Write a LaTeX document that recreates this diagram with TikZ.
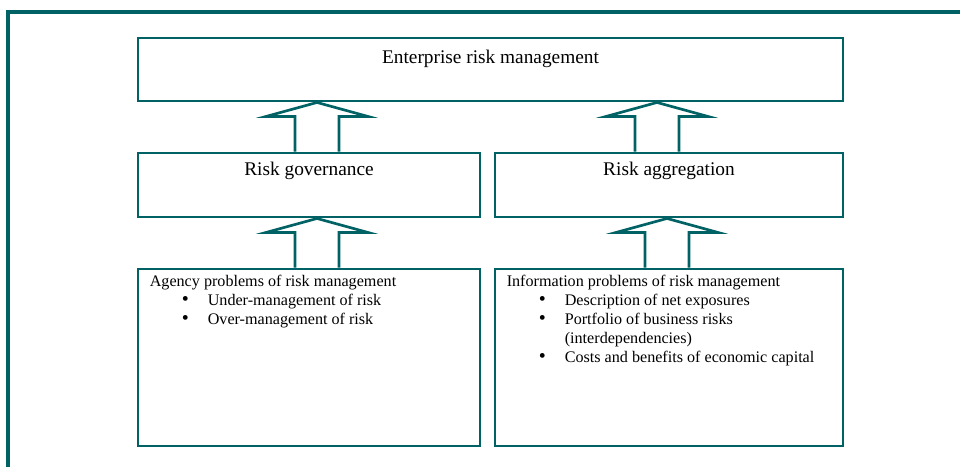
\documentclass[tikz,border=0pt]{standalone}
\usepackage{fontspec}
\setmainfont{Liberation Serif}
\usepackage{xcolor}
\definecolor{riskteal}{RGB}{0,98,100}
\usetikzlibrary{positioning, calc}

% hollow block arrow pointing up from box #1 to box #2, shifted by #3
\newcommand{\blockup}[3]{%
  \coordinate (base) at ($(#1.north)+(#3,0)$);
  \coordinate (tip) at (base |- #2.south);
  \draw[blockarrow] ($(base)+(-22,0)$) -- ($(tip)+(-22,14)$) -- ($(tip)+(-51,14)$)
    -- (tip) -- ($(tip)+(51,14)$) -- ($(tip)+(22,14)$) -- ($(base)+(22,0)$);
}
% bullet of a list line
\newcommand{\blt}{\hspace*{24pt}\makebox[19.5pt][l]{\smash{\fontsize{15}{14}\selectfont\textbullet}}}

\begin{document}
\begin{tikzpicture}[
    x=0.75pt, y=-0.75pt,
    box/.style={draw=riskteal, line width=2.2pt, inner sep=0pt},
    headtxt/.style={font=\fontsize{14.5}{17}\selectfont, inner sep=0pt},
    listtxt/.style={font=\fontsize{12.1}{14.25}\selectfont, align=left, inner sep=0pt, anchor=north west},
    blockarrow/.style={draw=riskteal, line width=2pt, line join=miter},
    framerule/.style={draw=riskteal, line width=2.6pt},
  ]
    \useasboundingbox (0,0) rectangle (960,467);

    % outer frame (top and left only)
    \draw[framerule] (960,12) -- (8,12) -- (8,467);

    % boxes
    \node[box, minimum width=528.75pt, minimum height=47.25pt] (erm) at (490.5,69.5) {};
    \node[box, minimum width=256.5pt, minimum height=48pt] (gov) at (309,185) {};
    \node[box, minimum width=261pt, minimum height=48pt] (agg) at (669,185) {};
    \node[box, minimum width=256.5pt, minimum height=132.75pt] (agency) at (309,357.5) {};
    \node[box, minimum width=261pt, minimum height=132.75pt] (info) at (669,357.5) {};

    % titles
    \node[headtxt, anchor=base] (ermtxt) at ($(erm.north)+(0,27)$) {Enterprise risk management};
    \node[headtxt, anchor=base] (govtxt) at ($(gov.north)+(0,24)$) {Risk governance};
    \node[headtxt, anchor=base] (aggtxt) at ($(agg.north)+(0,24)$) {Risk aggregation};

    % lists
    \node[listtxt] (agencytxt) at ($(agency.north west)+(13,7)$) {Agency problems of risk management\\
      \blt Under-management of risk\\
      \blt Over-management of risk};
    \node[listtxt] (infotxt) at ($(info.north west)+(13,7)$) {Information problems of risk management\\
      \blt Description of net exposures\\
      \blt Portfolio of business risks\\
      \hspace*{43.5pt}(interdependencies)\\
      \blt Costs and benefits of economic capital};

    % arrows
    \blockup{gov}{erm}{8}
    \blockup{agg}{erm}{-12}
    \blockup{agency}{gov}{8}
    \blockup{info}{agg}{-2}
\end{tikzpicture}
\end{document}
